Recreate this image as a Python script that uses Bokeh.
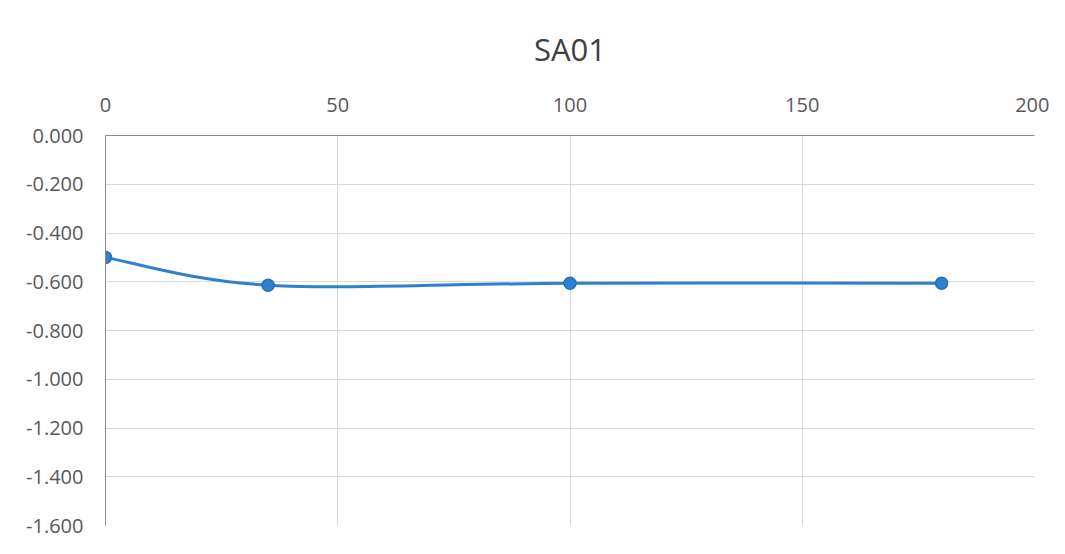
from bokeh.plotting import figure
from bokeh.models import Range1d, FixedTicker, CustomJSTickFormatter
from bokeh.embed import file_html
from bokeh.resources import INLINE

title_text = "SA01"
x_vals = [0, 35, 100, 180]
y_vals = [-0.500, -0.614, -0.606, -0.606]
x_ticks = [0, 50, 100, 150, 200]
y_ticks = [0.0, -0.2, -0.4, -0.6, -0.8, -1.0, -1.2, -1.4, -1.6]

BLUE = "#2F80CE"
FONT = "Open Sans"

p = figure(width=1049, height=538, output_backend="svg", toolbar_location=None,
           x_axis_location="above",
           x_range=Range1d(0, 200), y_range=Range1d(-1.6, 0.0),
           min_border_left=105, min_border_right=15, min_border_top=132, min_border_bottom=13)

p.title.text = title_text
p.title.align = "center"
p.title.text_font = FONT
p.title.text_font_size = "31px"
p.title.text_font_style = "normal"
p.title.text_color = "#404040"
p.title.offset = 0
p.title.standoff = 50

# smoothed line (Catmull-Rom style Bezier, as Excel "smoothed line")
n = len(x_vals)
x0s, y0s, x1s, y1s, cx0, cy0, cx1, cy1 = [], [], [], [], [], [], [], []
for i in range(n - 1):
    pa = (x_vals[max(i - 1, 0)], y_vals[max(i - 1, 0)])
    pb = (x_vals[i], y_vals[i])
    pc = (x_vals[i + 1], y_vals[i + 1])
    pd = (x_vals[min(i + 2, n - 1)], y_vals[min(i + 2, n - 1)])
    x0s.append(pb[0]); y0s.append(pb[1]); x1s.append(pc[0]); y1s.append(pc[1])
    cx0.append(pb[0] + (pc[0] - pa[0]) / 6); cy0.append(pb[1] + (pc[1] - pa[1]) / 6)
    cx1.append(pc[0] - (pd[0] - pb[0]) / 6); cy1.append(pc[1] - (pd[1] - pb[1]) / 6)

p.bezier(x0=x0s, y0=y0s, x1=x1s, y1=y1s, cx0=cx0, cy0=cy0, cx1=cx1, cy1=cy1,
         line_color=BLUE, line_width=3)
p.scatter(x_vals, y_vals, size=12, fill_color=BLUE, line_color="#2670B8", line_width=1.5)

for ax in (p.xaxis[0], p.yaxis[0]):
    ax.major_label_text_font = FONT
    ax.major_label_text_font_size = "20px"
    ax.major_label_text_color = "#595959"
    ax.major_tick_out = 0
    ax.major_tick_in = 0
    ax.minor_tick_out = 0
    ax.minor_tick_in = 0
    ax.axis_line_color = "#8C8C8C"
    ax.axis_line_width = 1

p.xaxis.ticker = FixedTicker(ticks=x_ticks)
p.yaxis.ticker = FixedTicker(ticks=y_ticks)
p.yaxis.formatter = CustomJSTickFormatter(code="return tick.toFixed(3);")
p.xaxis.major_label_standoff = 24
p.yaxis.major_label_standoff = 22

p.xgrid.ticker = FixedTicker(ticks=x_ticks)
p.ygrid.ticker = FixedTicker(ticks=y_ticks)
p.grid.grid_line_color = "#D9D9D9"
p.grid.grid_line_width = 1
p.outline_line_color = None
p.border_fill_color = "white"
p.background_fill_color = "white"

open("out.html", "w").write(file_html(p, INLINE))
